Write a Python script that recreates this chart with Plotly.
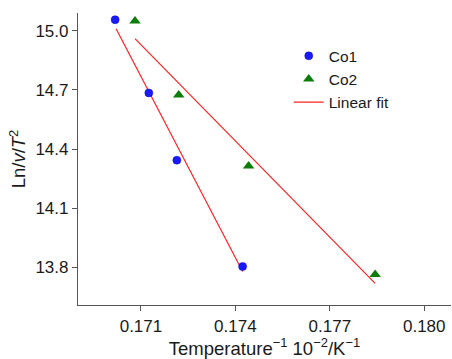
import plotly.graph_objects as go

co1_x = [0.17018, 0.17125, 0.17214, 0.17423]
co1_y = [15.056, 14.685, 14.344, 13.805]
co2_x = [0.17081, 0.17220, 0.17442, 0.17844]
co2_y = [15.050, 14.675, 14.314, 13.765]
fit1_x = [0.17021, 0.17423]
fit1_y = [15.010, 13.780]
fit2_x = [0.17081, 0.17844]
fit2_y = [14.960, 13.720]

x_ticks = [0.171, 0.174, 0.177, 0.180]
y_ticks = [13.8, 14.1, 14.4, 14.7, 15.0]

fig = go.Figure()
fig.add_trace(go.Scatter(x=fit1_x, y=fit1_y, mode="lines", line=dict(color="#ff2020", width=1.2),
                         name="Linear fit", showlegend=True, legendrank=3))
fig.add_trace(go.Scatter(x=fit2_x, y=fit2_y, mode="lines", line=dict(color="#ff2020", width=1.2),
                         name="Linear fit", showlegend=False))
fig.add_trace(go.Scatter(x=co1_x, y=co1_y, mode="markers", name="Co1", legendrank=1,
                         marker=dict(symbol="circle", size=8, color="#1a1aff",
                                     line=dict(color="#0000cc", width=0.5))))
fig.add_trace(go.Scatter(x=co2_x, y=co2_y, mode="markers", name="Co2", legendrank=2,
                         marker=dict(symbol="triangle-up", size=10, color="#0a7d0a",
                                     line=dict(width=0))))

font = "Liberation Sans, Arial, Helvetica, sans-serif"
fig.update_layout(
    width=452, height=359,
    margin=dict(l=78, r=1, t=13, b=54),
    paper_bgcolor="white", plot_bgcolor="white",
    font=dict(family=font, size=17, color="#1a1a1a"),
    legend=dict(x=0.565, y=0.91, xanchor="left", yanchor="top", bgcolor="rgba(0,0,0,0)",
                font=dict(size=15.5), tracegroupgap=0, itemwidth=30),
    xaxis=dict(range=[0.169, 0.18085], tickvals=x_ticks, ticktext=[f"{v:.3f}" for v in x_ticks],
               showgrid=False, zeroline=False, showline=True, linecolor="#555", linewidth=1.2,
               ticks="outside", ticklen=5, tickcolor="#555", tickfont=dict(size=17),
               title=dict(text="Temperature<sup>\u22121</sup> 10<sup>\u22122</sup>/K<sup>\u22121</sup>",
                          font=dict(size=18.5), standoff=6)),
    yaxis=dict(range=[13.61, 15.09], tickvals=y_ticks, ticktext=[f"{v:.1f}" for v in y_ticks],
               showgrid=False, zeroline=False, showline=True, linecolor="#555", linewidth=1.2,
               ticks="outside", ticklen=5, tickcolor="#555", tickfont=dict(size=17),
               title=dict(text="Ln/<i>v</i>/<i>T</i><sup>2</sup>", font=dict(size=18.5), standoff=4)),
)
fig.write_html("out.html")
